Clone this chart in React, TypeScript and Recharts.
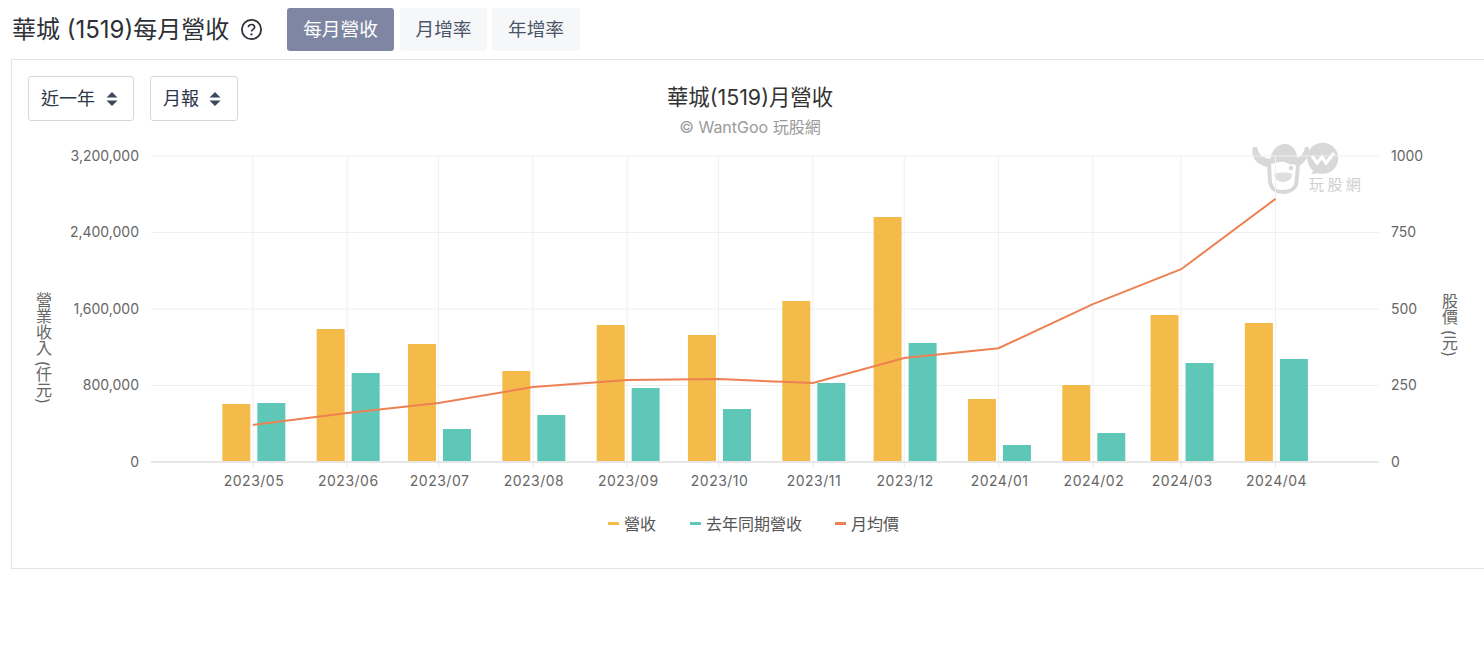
import React from "react";
import { ComposedChart, Bar, Line, XAxis, YAxis, CartesianGrid, Legend, Rectangle } from "recharts";

const months = ["2023/05","2023/06","2023/07","2023/08","2023/09","2023/10","2023/11","2023/12","2024/01","2024/02","2024/03","2024/04"];
const revenue = [606000,1391000,1234000,952000,1433000,1328000,1684000,2562000,659000,805000,1537000,1454000];
const lastYear = [617000,931000,345000,492000,774000,554000,826000,1245000,178000,303000,1035000,1077000];
const avgPrice = [121,160,193,245,268,271,258,340,372,516,630,860];
const leftTicks = [0,800000,1600000,2400000,3200000];
const rightTicks = [0,250,500,750,1000];

const toTime = (m: string) => { const [y, mo] = m.split("/").map(Number); return Date.UTC(y, mo - 1, 1); };
const fromTime = (t: number) => { const d = new Date(t); return `${d.getUTCFullYear()}/${String(d.getUTCMonth() + 1).padStart(2, "0")}`; };
const DAY = 86400000;
const data = months.map((m, i) => ({ t: toTime(m), revenue: revenue[i], lastYear: lastYear[i], avgPrice: avgPrice[i] }));
const xTicks = data.map(d => d.t);

const FONT = 'Inter, "Noto Sans CJK TC", sans-serif';
const abs = (left: number, top: number, extra: React.CSSProperties = {}): React.CSSProperties => ({ position: "absolute", left, top, ...extra });

const ShiftedBar = (props: any) => <Rectangle {...props} x={props.x + 0.5} />;

function Arrows({ x, y }: { x: number; y: number }) {
  return (
    <svg style={abs(x, y)} width="12" height="16" viewBox="0 0 12 16">
      <path d="M6 1 L11.5 6.6 L0.5 6.6 Z M6 15 L11.5 9.4 L0.5 9.4 Z" fill="#3c4a60" />
    </svg>
  );
}

function Btn({ x, w, label, active }: { x: number; w: number; label: string; active?: boolean }) {
  return (
    <div style={abs(x, 8, { width: w, height: 43, lineHeight: "44px", textAlign: "center", borderRadius: 3, background: active ? "#7e86a3" : "#f6f7f9", color: active ? "#fff" : "#4a5568", fontSize: 18.7 })}>{label}</div>
  );
}

function Sel({ x, w, label }: { x: number; w: number; label: string }) {
  return (
    <div style={abs(x, 76, { width: w, height: 45, boxSizing: "border-box", border: "1px solid #d5d8dc", borderRadius: 3, background: "#fff", color: "#2d3748", fontSize: 18, lineHeight: "44px", paddingLeft: 12 })}>{label}</div>
  );
}

function LegendContent({ payload }: any) {
  const starts = [0, 82, 227];
  return (
    <div style={{ position: "relative", width: 300, height: 24 }}>
      {(payload || []).map((p: any, i: number) => (
        <React.Fragment key={i}>
          <div style={abs(starts[i], 10, { width: 11, height: 3, background: p.color })} />
          <div style={abs(starts[i] + 16, 0, { fontSize: 16, lineHeight: "24px", color: "#555", whiteSpace: "nowrap" })}>{p.value}</div>
        </React.Fragment>
      ))}
    </div>
  );
}

export default function App() {
  return (
    <div style={{ position: "absolute", left: 0, top: 0, width: 1484, height: 652, overflow: "hidden", background: "#fff", fontFamily: FONT }}>
      <div style={abs(12, 12, { fontSize: 24, lineHeight: "36px", color: "#2d3036", whiteSpace: "nowrap" })}>華城 (1519)每月營收</div>
      <svg style={abs(240, 18)} width="23" height="23" viewBox="0 0 23 23">
        <circle cx="11.5" cy="11.5" r="9.6" fill="none" stroke="#2d3036" strokeWidth="1.8" />
        <path d="M8.4 9.2 C8.4 5.6 14.6 5.6 14.6 9.2 C14.6 11.4 11.5 11.3 11.5 13.6" fill="none" stroke="#2d3036" strokeWidth="1.7" />
        <circle cx="11.5" cy="16.4" r="1.1" fill="#2d3036" />
      </svg>
      <Btn x={287} w={107} label="每月營收" active />
      <Btn x={400} w={87} label="月增率" />
      <Btn x={492} w={88} label="年增率" />

      <div style={abs(11, 59, { width: 1490, height: 510, boxSizing: "border-box", border: "1px solid #e2e5ea" })} />

      <svg style={abs(1250, 138)} width="118" height="60" viewBox="0 0 118 60">
        <g fill="#d8d8d8">
          <path d="M3 9 C0 18 6 27 18 29 L22 21 C14 21 8 17 7 9 Z" />
          <path d="M59 9 C60 18 54 27 46 29 L43 21 C49 21 54 16 55 9 Z" />
          <path d="M20 26 C20 11 29 6 35 6 C43 6 48 14 48 25 C46 27 41 27 37 25 C32 22 26 25 20 26 Z" />
          <circle cx="72.7" cy="20.3" r="15.5" />
          <path d="M64 31 L61.5 36 L70 35 Z" />
        </g>
        <path d="M19 24 L20 44 C21 50 25 54 33 54 C41 54 46 50 46.5 44 L48 27" fill="none" stroke="#d8d8d8" strokeWidth="3.8" />
        <path d="M24 36 C30 34 38 34 42 36 C42 42 37 44 33 44 C29 44 25 42 24 36 Z" fill="#dfdfdf" />
        <circle cx="41" cy="30" r="2.2" fill="#d8d8d8" />
        <path d="M62 18 L67 25 L72 19 L76 25 L84 15" fill="none" stroke="#fff" strokeWidth="3.2" />
        <text x="59" y="52" fontSize="15" fill="#cfcfcf" letterSpacing="3.4" fontFamily={FONT}>玩股網</text>
      </svg>

      <div style={abs(0, 0, { width: 1484, height: 652 })}>
        <ComposedChart width={1484} height={570} data={data} margin={{ top: 156, left: 71, right: 45, bottom: 68 }} barSize={28} barGap={7} style={{ fontFamily: FONT }}>
          <CartesianGrid yAxisId="left" stroke="#f0f0f0" strokeWidth={1} syncWithTicks />
          <XAxis dataKey="t" type="number" scale="time" domain={[xTicks[0] - 33.5 * DAY, xTicks[11] + 34 * DAY]} ticks={xTicks} tickFormatter={fromTime} height={40} interval={0} axisLine={{ stroke: "#e6e6e6", strokeWidth: 2 }} tickLine={{ stroke: "#e6e6e6" }} tickSize={5} tickMargin={9} tick={{ fill: "#666", fontSize: 14, letterSpacing: 0.5, dx: 1 }} />
          <YAxis yAxisId="left" width={80} domain={[0, 3200000]} ticks={leftTicks} tickFormatter={(v: number) => v.toLocaleString("en-US")} axisLine={false} tickLine={false} tickMargin={12} tickSize={0} tick={{ fill: "#666", fontSize: 14 }} interval={0} />
          <YAxis yAxisId="right" orientation="right" width={60} domain={[0, 1000]} ticks={rightTicks} axisLine={false} tickLine={false} tickMargin={12} tickSize={0} tick={{ fill: "#666", fontSize: 14 }} interval={0} />
          <Bar yAxisId="left" dataKey="revenue" name="營收" fill="#f4bb4a" shape={ShiftedBar} isAnimationActive={false} />
          <Bar yAxisId="left" dataKey="lastYear" name="去年同期營收" fill="#5fc7b7" shape={ShiftedBar} isAnimationActive={false} />
          <Line yAxisId="right" dataKey="avgPrice" name="月均價" stroke="#ed8153" strokeWidth={2} dot={false} activeDot={false} isAnimationActive={false} />
          <Legend layout="horizontal" verticalAlign="middle" align="center" itemSorter={null} content={<LegendContent />} wrapperStyle={{ position: "absolute", left: 608, top: 512, width: 300, height: 24 }} />
        </ComposedChart>
      </div>

      <Sel x={28} w={106} label="近一年" />
      <Arrows x={106} y={91} />
      <Sel x={150} w={88} label="月報" />
      <Arrows x={209} y={91} />

      <div style={abs(500, 82, { width: 500, textAlign: "center", fontSize: 21.4, lineHeight: "30px", color: "#333" })}>華城(1519)月營收</div>
      <div style={abs(500, 116, { width: 500, textAlign: "center", fontSize: 16, lineHeight: "22px", color: "#9a9a9a" })}>© WantGoo 玩股網</div>
      <div style={abs(32, 292, { writingMode: "vertical-rl", fontSize: 16, lineHeight: "22px", color: "#666", whiteSpace: "nowrap" })}>營業收入 (仟元)</div>
      <div style={abs(1438, 293, { writingMode: "vertical-rl", fontSize: 16, lineHeight: "22px", color: "#666", whiteSpace: "nowrap" })}>股價 (元)</div>
    </div>
  );
}
